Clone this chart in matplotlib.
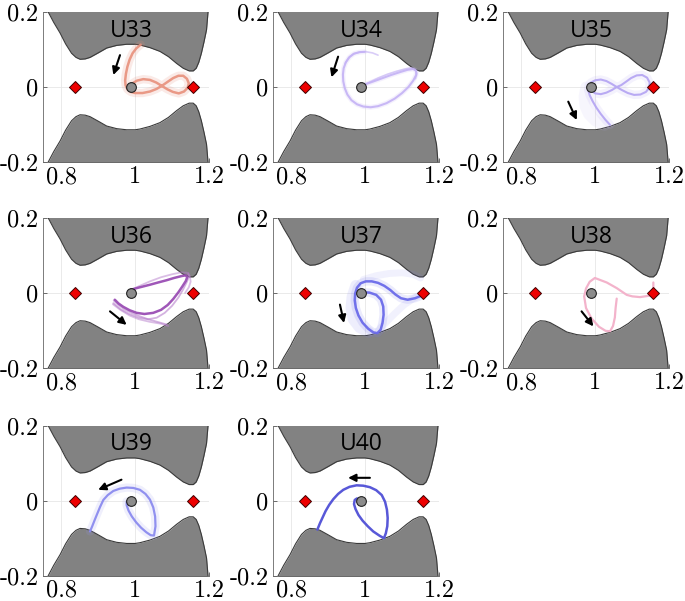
import matplotlib
matplotlib.use("Agg")
import matplotlib.pyplot as plt

plt.rcParams["axes.unicode_minus"] = False

# forbidden-region boundary
zvc_x = [0.765, 0.780, 0.797, 0.812, 0.828, 0.840, 0.851, 0.865, 0.878, 0.900, 0.923, 0.950,
         0.977, 1.000, 1.013, 1.040, 1.067, 1.090, 1.112, 1.130, 1.146, 1.157, 1.165, 1.172,
         1.179, 1.186, 1.193, 1.197]
zvc_top = [0.200, 0.172, 0.144, 0.115, 0.090, 0.079, 0.074, 0.075, 0.079, 0.091, 0.104, 0.111,
           0.114, 0.114, 0.112, 0.105, 0.095, 0.081, 0.063, 0.050, 0.043, 0.043, 0.050, 0.066,
           0.090, 0.120, 0.153, 0.200]
zvc_bot = [-0.200, -0.172, -0.144, -0.115, -0.090, -0.079, -0.074, -0.075, -0.079, -0.091, -0.104, -0.111,
           -0.114, -0.114, -0.112, -0.105, -0.095, -0.081, -0.063, -0.050, -0.043, -0.043, -0.050, -0.066,
           -0.090, -0.120, -0.153, -0.200]

lib_x = [0.837, 1.156]
lib_y = [0.0, 0.0]
moon_x, moon_y = 0.988, 0.0

names = ["U33", "U34", "U35", "U36", "U37", "U38", "U39", "U40"]

# trajectories (x, y) per panel
u33_x = [1.015, 1.003, 0.993, 0.985, 0.979, 0.975, 0.973, 0.974, 0.979, 0.988, 1.000, 1.020, 1.040,
         1.058, 1.072, 1.088, 1.103, 1.117, 1.130, 1.140, 1.145, 1.142, 1.132, 1.118, 1.102, 1.087,
         1.072, 1.057, 1.040, 1.022, 1.005, 0.993, 0.988]
u33_y = [0.113, 0.103, 0.090, 0.073, 0.054, 0.035, 0.018, 0.005, -0.006, -0.013, -0.016, -0.016, -0.012,
         -0.005, 0.003, 0.014, 0.024, 0.030, 0.030, 0.022, 0.010, -0.002, -0.012, -0.017, -0.013, -0.006,
         0.003, 0.012, 0.019, 0.021, 0.017, 0.010, 0.004]

u34_x = [0.999, 0.985, 0.970, 0.958, 0.948, 0.942, 0.940, 0.941, 0.945, 0.952, 0.963, 0.978, 0.995,
         1.015, 1.035, 1.058, 1.080, 1.100, 1.117, 1.130, 1.138, 1.138, 1.130, 1.115, 1.095, 1.070,
         1.045, 1.020, 1.000, 0.990]
u34_y = [0.094, 0.093, 0.089, 0.080, 0.066, 0.050, 0.033, 0.015, -0.003, -0.020, -0.035, -0.046, -0.052,
         -0.054, -0.051, -0.043, -0.031, -0.016, 0.000, 0.017, 0.032, 0.043, 0.048, 0.046, 0.040, 0.032,
         0.023, 0.014, 0.007, 0.003]
u34b_x = [1.035, 1.020, 1.003, 0.985, 0.968, 0.955, 0.946]
u34b_y = [0.085, 0.091, 0.094, 0.093, 0.088, 0.078, 0.063]
u34c_x = [0.991, 1.010, 1.035, 1.060, 1.085, 1.108, 1.125, 1.136, 1.140, 1.136]
u34c_y = [0.003, 0.012, 0.024, 0.034, 0.042, 0.048, 0.051, 0.047, 0.036, 0.022]

u35_x = [1.040, 1.028, 1.015, 1.003, 0.993, 0.985, 0.981, 0.982, 0.988, 1.000, 1.015, 1.030, 1.045,
         1.058, 1.072, 1.088, 1.105, 1.122, 1.137, 1.146, 1.147, 1.140, 1.127, 1.112, 1.097, 1.083,
         1.070, 1.058, 1.045, 1.030, 1.015, 1.000, 0.990, 0.986]
u35_y = [-0.101, -0.088, -0.072, -0.055, -0.038, -0.022, -0.008, 0.004, 0.012, 0.018, 0.020, 0.016, 0.008,
         0.000, -0.008, -0.016, -0.021, -0.020, -0.013, -0.002, 0.012, 0.025, 0.032, 0.031, 0.024, 0.014,
         0.005, 0.000, -0.008, -0.015, -0.019, -0.017, -0.010, -0.002]
u35b_x = [0.975, 0.970, 0.972, 0.982, 1.000, 1.025]
u35b_y = [0.000, -0.025, -0.050, -0.072, -0.090, -0.102]

u36_x = [0.945, 0.955, 0.968, 0.985, 1.004, 1.025, 1.049, 1.070, 1.088, 1.103, 1.117, 1.128, 1.137,
         1.141, 1.136, 1.125, 1.105, 1.085, 1.062, 1.040, 1.020, 1.004, 0.990, 0.981]
u36_y = [-0.018, -0.028, -0.037, -0.046, -0.053, -0.056, -0.053, -0.045, -0.032, -0.016, 0.002, 0.018, 0.032,
         0.043, 0.047, 0.045, 0.040, 0.034, 0.028, 0.022, 0.017, 0.013, 0.009, 0.004]
u36b_x = [0.942, 0.955, 0.970, 0.990, 1.012, 1.035, 1.060, 1.085]
u36b_y = [-0.020, -0.032, -0.043, -0.053, -0.062, -0.070, -0.077, -0.084]
u36e_x = [0.940, 0.960, 0.985, 1.010, 1.040, 1.070, 1.090]
u36e_y = [-0.030, -0.045, -0.060, -0.070, -0.077, -0.082, -0.088]
u36c_x = [0.941, 0.960, 0.984, 1.010, 1.035, 1.058, 1.080, 1.100, 1.117, 1.130, 1.140, 1.146, 1.144]
u36c_y = [-0.027, -0.043, -0.056, -0.066, -0.070, -0.066, -0.053, -0.034, -0.012, 0.010, 0.030, 0.045, 0.053]
u36d_x = [0.986, 1.010, 1.040, 1.070, 1.100, 1.125, 1.140, 1.148, 1.150, 1.145, 1.135]
u36d_y = [0.006, 0.018, 0.031, 0.042, 0.050, 0.055, 0.054, 0.045, 0.030, 0.015, 0.000]

u37_x = [1.150, 1.135, 1.115, 1.097, 1.082, 1.068, 1.052, 1.035, 1.018, 1.002, 0.988, 0.978, 0.973,
         0.972, 0.975, 0.982, 0.993, 1.008, 1.022, 1.033, 1.042, 1.047, 1.050, 1.049, 1.043, 1.030,
         1.012, 0.995]
u37_y = [-0.008, -0.014, -0.018, -0.014, -0.004, 0.008, 0.019, 0.027, 0.031, 0.031, 0.026, 0.014, -0.002,
         -0.020, -0.040, -0.060, -0.079, -0.095, -0.105, -0.107, -0.098, -0.080, -0.058, -0.036, -0.018, -0.005,
         0.001, 0.002]
u37b_x = [0.995, 1.030, 1.065, 1.100, 1.130, 1.150]
u37b_y = [0.036, 0.046, 0.052, 0.054, 0.050, 0.040]
u37c_x = [0.975, 0.965, 0.962, 0.968, 0.985, 1.010]
u37c_y = [0.020, -0.010, -0.040, -0.070, -0.092, -0.105]
u37d_x = [1.035, 1.055, 1.080, 1.105, 1.130, 1.150]
u37d_y = [-0.100, -0.080, -0.055, -0.032, -0.015, -0.005]

u38_x = [1.157, 1.157, 1.148, 1.121, 1.100, 1.085, 1.058, 1.031, 0.999, 0.985, 0.975, 0.970, 0.975,
         0.990, 1.010, 1.028, 1.040, 1.048, 1.053, 1.055, 1.058]
u38_y = [0.028, 0.009, -0.007, -0.011, -0.009, -0.005, 0.013, 0.028, 0.040, 0.030, 0.012, -0.009, -0.040,
         -0.068, -0.090, -0.101, -0.102, -0.088, -0.065, -0.040, -0.015]

u39_x = [0.878, 0.884, 0.890, 0.897, 0.905, 0.914, 0.926, 0.941, 0.958, 0.977, 0.995, 1.013, 1.028,
         1.040, 1.049, 1.054, 1.055, 1.051, 1.042, 1.030, 1.016, 1.003, 0.991, 0.982, 0.977, 0.977]
u39_y = [-0.082, -0.068, -0.053, -0.036, -0.017, 0.002, 0.015, 0.026, 0.032, 0.035, 0.034, 0.029, 0.018,
         0.003, -0.018, -0.042, -0.068, -0.093, -0.092, -0.084, -0.072, -0.058, -0.042, -0.026, -0.012, -0.002]

u40_x = [0.871, 0.878, 0.885, 0.893, 0.903, 0.914, 0.927, 0.941, 0.958, 0.977, 0.995, 1.013, 1.030,
         1.045, 1.054, 1.059, 1.061, 1.060, 1.056, 1.051, 1.040, 1.022, 1.007, 0.993, 0.982, 0.974,
         0.970, 0.972, 0.978]
u40_y = [-0.077, -0.060, -0.045, -0.028, -0.011, 0.004, 0.018, 0.029, 0.037, 0.041, 0.040, 0.036, 0.028,
         0.015, -0.003, -0.024, -0.046, -0.068, -0.087, -0.100, -0.094, -0.082, -0.068, -0.053, -0.038, -0.022,
         -0.009, 0.002, 0.006]

# direction arrows: (x_start, y_start, x_end, y_end)
arrows = {
    "U33": (0.959, 0.085, 0.941, 0.032),
    "U34": (0.927, 0.081, 0.909, 0.026),
    "U35": (0.927, -0.039, 0.950, -0.088),
    "U36": (0.932, -0.049, 0.977, -0.085),
    "U37": (0.932, -0.031, 0.943, -0.080),
    "U38": (0.963, -0.049, 0.995, -0.089),
    "U39": (0.963, 0.056, 0.900, 0.029),
    "U40": (1.013, 0.061, 0.954, 0.061),
}

# (x, y, colour, linewidth, alpha)
strands = {
    "U33": [(u33_x, u33_y, "#e8907c", 6, 0.18), (u33_x, u33_y, "#e8907c", 1.8, 0.9)],
    "U34": [(u34_x, u34_y, "#c9b8f5", 3.5, 0.2), (u34b_x, u34b_y, "#c9b8f5", 1.2, 0.7),
            (u34c_x, u34c_y, "#c9b8f5", 1.2, 0.7), (u34_x, u34_y, "#c4b2f5", 1.5, 0.9)],
    "U35": [(u35_x, u35_y, "#b9aaf2", 6, 0.15), (u35b_x, u35b_y, "#b9aaf2", 8, 0.1),
            (u35_x, u35_y, "#b3a3f2", 1.5, 0.9)],
    "U36": [(u36b_x, u36b_y, "#b77fcc", 1.3, 0.6), (u36e_x, u36e_y, "#b77fcc", 1.3, 0.5),
            (u36c_x, u36c_y, "#b77fcc", 1.3, 0.6), (u36d_x, u36d_y, "#b77fcc", 1.3, 0.5),
            (u36_x, u36_y, "#9a4eb4", 1.8, 0.95)],
    "U37": [(u37b_x, u37b_y, "#7a7aee", 5, 0.1), (u37c_x, u37c_y, "#7a7aee", 8, 0.12),
            (u37d_x, u37d_y, "#7a7aee", 5, 0.1), (u37_x, u37_y, "#7a7aee", 6, 0.15),
            (u37_x, u37_y, "#6b6bea", 1.8, 0.95)],
    "U38": [(u38_x, u38_y, "#f3b3cb", 1.6, 1.0)],
    "U39": [(u39_x, u39_y, "#9a9af0", 6, 0.15), (u39_x, u39_y, "#8b8bef", 1.6, 0.95)],
    "U40": [(u40_x, u40_y, "#5858d8", 1.8, 1.0)],
}

fig = plt.figure(figsize=(6.85, 6.01), dpi=100)
lefts = [0.0623, 0.398, 0.734]
bottoms = [0.7304, 0.3877, 0.0421]
w, h = 0.243, 0.2496

for i, name in enumerate(names):
    ax = fig.add_axes([lefts[i % 3], bottoms[i // 3], w, h])
    ax.set_axisbelow(True)
    ax.grid(True, color="#e6e6e6", lw=0.6)
    ax.fill_between(zvc_x, zvc_top, 0.3, color="#828282", lw=0, zorder=1)
    ax.fill_between(zvc_x, zvc_bot, -0.3, color="#828282", lw=0, zorder=1)
    ax.plot(zvc_x, zvc_top, color="#3a3a3a", lw=0.8, zorder=2)
    ax.plot(zvc_x, zvc_bot, color="#3a3a3a", lw=0.8, zorder=2)

    for sx, sy, c, lw, a in strands[name]:
        ax.plot(sx, sy, color=c, lw=lw, alpha=a, solid_capstyle="round",
                solid_joinstyle="round", zorder=3)

    ax.plot(lib_x, lib_y, "D", ms=6.5, mfc="#ee0000", mec="#400000", mew=0.7, ls="none", zorder=5)
    ax.plot(moon_x, moon_y, "o", ms=7, mfc="#8c8c8c", mec="#222222", mew=0.8, zorder=5)

    x0, y0, x1, y1 = arrows[name]
    ax.annotate("", xy=(x1, y1), xytext=(x0, y0),
                arrowprops=dict(arrowstyle="-|>", color="black", lw=1.5, mutation_scale=11,
                                shrinkA=0, shrinkB=0),
                zorder=6)

    ax.text(0.99, 0.150, name, ha="center", va="center", fontsize=16.5,
            family="Open Sans", color="black", zorder=6)

    ax.set_xlim(0.75, 1.2)
    ax.set_ylim(-0.2, 0.2)
    ax.set_xticks([0.8, 1.0, 1.2])
    ax.set_xticklabels(["0.8", "1", "1.2"], family="cmr10", fontsize=17.5)
    ax.set_yticks([-0.2, 0.0, 0.2])
    ax.set_yticklabels(["-0.2", "0", "0.2"], family="cmr10", fontsize=17.5)
    ax.tick_params(direction="in", length=3, width=0.6, color="#555555", pad=3)
    for s in ["top", "right"]:
        ax.spines[s].set_visible(False)
    for s in ["left", "bottom"]:
        ax.spines[s].set_color("#666666")
        ax.spines[s].set_linewidth(0.6)

fig.savefig("out.png", dpi=100)
